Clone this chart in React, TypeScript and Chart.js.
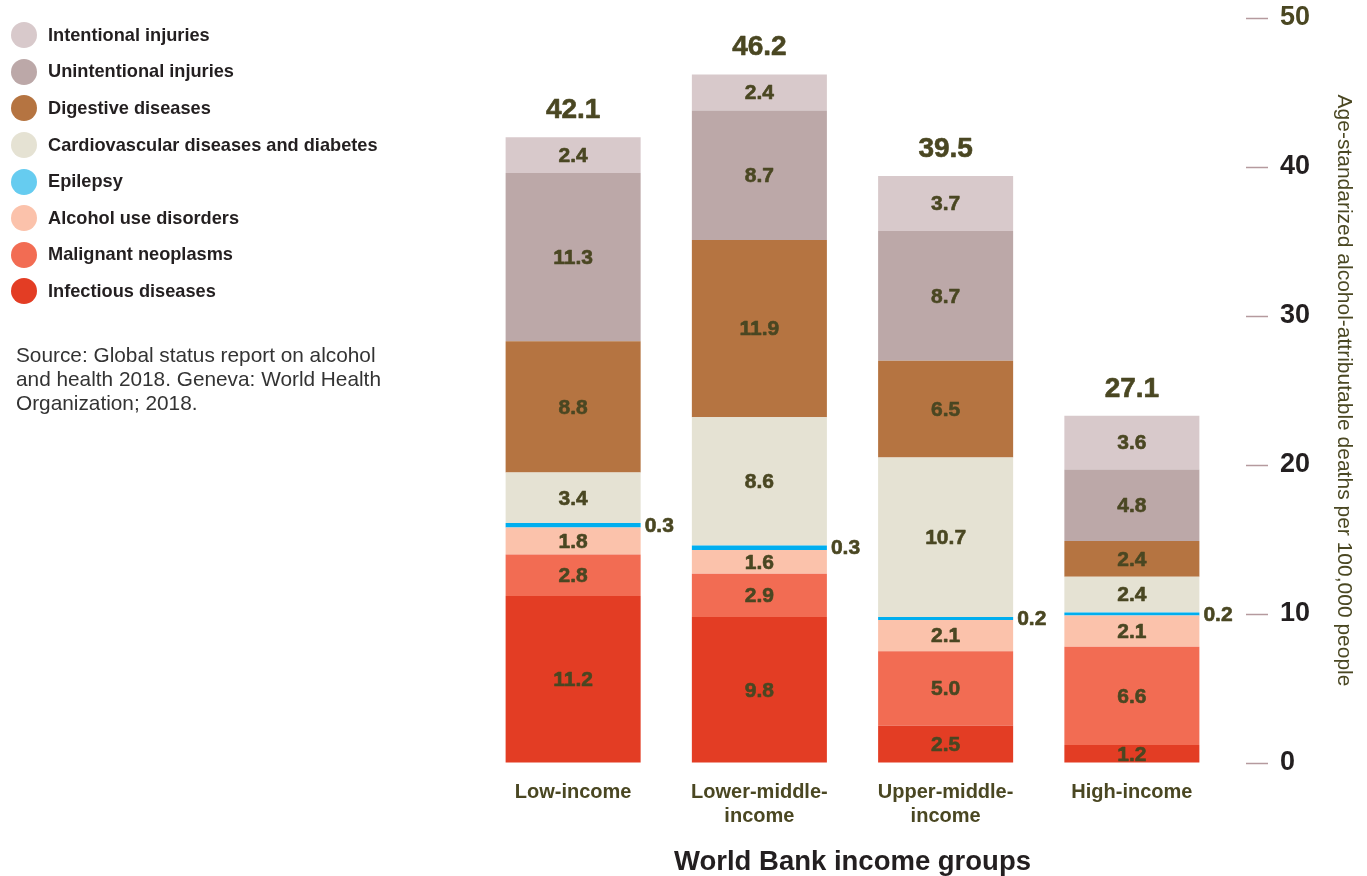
import React, { useEffect, useRef } from "react";
import { Chart, registerables } from "chart.js";

Chart.register(...registerables);

const categories: (string | string[])[] = [
  "Low-income",
  ["Lower-middle-", "income"],
  ["Upper-middle-", "income"],
  "High-income",
];

// bottom to top
const seriesNames = [
  "Infectious diseases",
  "Malignant neoplasms",
  "Alcohol use disorders",
  "Epilepsy",
  "Cardiovascular diseases and diabetes",
  "Digestive diseases",
  "Unintentional injuries",
  "Intentional injuries",
];

const infectious = [11.2, 9.8, 2.5, 1.2];
const malignant = [2.8, 2.9, 5.0, 6.6];
const alcoholUse = [1.8, 1.6, 2.1, 2.1];
const epilepsy = [0.3, 0.3, 0.2, 0.2];
const cardiovascular = [3.4, 8.6, 10.7, 2.4];
const digestive = [8.8, 11.9, 6.5, 2.4];
const unintentional = [11.3, 8.7, 8.7, 4.8];
const intentional = [2.4, 2.4, 3.7, 3.6];

const totals = [42.1, 46.2, 39.5, 27.1];

const barColors = [
  "#E33D24",
  "#F26C53",
  "#FBC2AB",
  "#00AEEF",
  "#E5E2D3",
  "#B57441",
  "#BCA8A8",
  "#D8C9CB",
];
const legendColors = [
  "#E33D24",
  "#F26C53",
  "#FBC2AB",
  "#66CCF0",
  "#E5E2D3",
  "#B57441",
  "#BCA8A8",
  "#D8C9CB",
];

const yTicks = [0, 10, 20, 30, 40, 50];

const OLIVE = "#4A4722";
const DARK = "#231F20";
const FONT = "'Liberation Sans', Arial, sans-serif";
const EPI = 3;

const seriesValues = [
  infectious,
  malignant,
  alcoholUse,
  epilepsy,
  cardiovascular,
  digestive,
  unintentional,
  intentional,
];

function heavyText(ctx: any, text: string, x: number, y: number) {
  ctx.fillText(text, x, y);
  ctx.strokeText(text, x, y);
}

const labelPlugin = {
  id: "segmentLabels",
  afterDatasetsDraw(chart: any) {
    const ctx = chart.ctx;
    ctx.save();
    ctx.fillStyle = OLIVE;
    ctx.strokeStyle = OLIVE;
    ctx.lineWidth = 0.6;
    ctx.lineJoin = "round";
    ctx.textBaseline = "middle";
    chart.data.datasets.forEach((ds: any, di: number) => {
      const meta = chart.getDatasetMeta(di);
      meta.data.forEach((bar: any, i: number) => {
        const v = ds.data[i] as number;
        const p = bar.getProps(["x", "y", "base", "width"], true);
        const cy = (p.y + p.base) / 2;
        ctx.font = `700 21px ${FONT}`;
        if (di === EPI) {
          ctx.textAlign = "left";
          heavyText(ctx, v.toFixed(1), p.x + p.width / 2 + 4, cy + 1);
        } else {
          ctx.textAlign = "center";
          heavyText(ctx, v.toFixed(1), p.x, cy + 1);
        }
      });
    });
    const top = chart.getDatasetMeta(chart.data.datasets.length - 1);
    top.data.forEach((bar: any, i: number) => {
      const p = bar.getProps(["x", "y"], true);
      ctx.font = `700 28px ${FONT}`;
      ctx.textAlign = "center";
      heavyText(ctx, totals[i].toFixed(1), p.x, p.y - 27);
    });
    // tick dashes
    const ys = chart.scales.y;
    const ca = chart.chartArea;
    ctx.strokeStyle = "#B59A9E";
    ctx.lineWidth = 1.5;
    ys.ticks.forEach((t: any) => {
      const y = Math.round(ys.getPixelForValue(t.value)) + 0.5;
      ctx.beginPath();
      ctx.moveTo(ca.right + 21, y);
      ctx.lineTo(ca.right + 43, y);
      ctx.stroke();
    });
    ctx.restore();
  },
};

export default function App() {
  const ref = useRef<HTMLCanvasElement | null>(null);

  useEffect(() => {
    if (!ref.current) return;
    const chart = new Chart(ref.current, {
      type: "bar",
      data: {
        labels: categories as any,
        datasets: seriesNames.map((name, i) => ({
          label: name,
          data: seriesValues[i],
          backgroundColor: barColors[i],
          borderWidth: 0,
          barPercentage: 0.725,
          categoryPercentage: 1,
        })),
      },
      options: {
        animation: false,
        responsive: true,
        maintainAspectRatio: false,
        layout: { padding: { left: 480, right: 0, top: 18, bottom: 0 } },
        plugins: {
          legend: { display: false },
          tooltip: { enabled: false },
        },
        scales: {
          x: {
            stacked: true,
            grid: { display: false, drawTicks: false },
            border: { display: false },
            ticks: {
              color: OLIVE,
              font: { family: FONT, size: 20, weight: "bold", lineHeight: 1.2 },
              padding: 17,
              maxRotation: 0,
              autoSkip: false,
            },
            title: {
              display: true,
              text: "World Bank income groups",
              color: DARK,
              font: { family: FONT, size: 27.5, weight: "bold", lineHeight: 1.0 },
              padding: { top: 0, bottom: 0 },
            },
            afterFit(scale: any) {
              scale.height = 113;
            },
          },
          y: {
            stacked: true,
            position: "right",
            min: 0,
            max: 50,
            afterBuildTicks(scale: any) {
              scale.ticks = yTicks.map((v) => ({ value: v }));
            },
            grid: {
              display: true,
              drawOnChartArea: false,
              drawTicks: true,
              tickLength: 55,
              color: "rgba(0,0,0,0)",
            },
            border: { display: false },
            ticks: {
              padding: 0,
              color: (c: any) => (c.tick && c.tick.value === 50 ? OLIVE : DARK),
              font: { family: FONT, size: 27, weight: "bold", lineHeight: 1.1 },
            },
            title: {
              display: true,
              text: "Age-standarized alcohol-attributable deaths per 100,000 people",
              color: OLIVE,
              font: { family: FONT, size: 21, weight: "normal", lineHeight: 1.2 },
              padding: { top: 11, bottom: 0 },
            },
            afterFit(scale: any) {
              scale.width = 142;
            },
          },
        },
      },
      plugins: [labelPlugin],
    } as any);
    return () => chart.destroy();
  }, []);

  const legendOrder = seriesNames.map((_, i) => i).reverse();

  return (
    <div
      style={{
        position: "absolute",
        left: 0,
        top: 0,
        width: 1367,
        height: 876,
        background: "#fff",
        fontFamily: FONT,
      }}
    >
      <canvas ref={ref} />
      <div style={{ position: "absolute", left: 11, top: 17 }}>
        {legendOrder.map((i) => (
          <div
            key={i}
            style={{ display: "flex", alignItems: "center", height: 36.6 }}
          >
            <span
              style={{
                width: 26,
                height: 26,
                borderRadius: "50%",
                background: legendColors[i],
                display: "inline-block",
                marginRight: 11,
                flex: "none",
              }}
            />
            <span
              style={{
                fontWeight: "bold",
                fontSize: 18.2,
                color: DARK,
                whiteSpace: "nowrap",
              }}
            >
              {seriesNames[i]}
            </span>
          </div>
        ))}
      </div>
      <div
        style={{
          position: "absolute",
          left: 16,
          top: 343,
          fontSize: 20.8,
          lineHeight: "24px",
          color: "#333",
          whiteSpace: "nowrap",
        }}
      >
        Source: Global status report on alcohol
        <br />
        and health 2018. Geneva: World Health
        <br />
        Organization; 2018.
      </div>
    </div>
  );
}
